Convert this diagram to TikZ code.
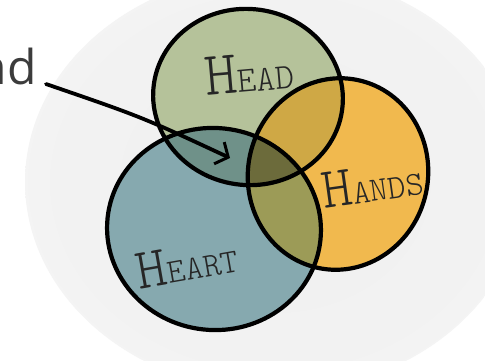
\documentclass[tikz,border=0pt]{standalone}
\usepackage{fontspec}
\setmainfont{Open Sans}
\newfontfamily\hand{Latin Modern Mono Light}
\usetikzlibrary{arrows.meta}
\definecolor{headc}{HTML}{B5C29A}
\definecolor{handsc}{HTML}{F1B94E}
\definecolor{heartc}{HTML}{86A9AF}
\definecolor{headheartc}{HTML}{6F9189}
\definecolor{headhandsc}{HTML}{CFA845}
\definecolor{handsheartc}{HTML}{9C9B57}
\definecolor{allc}{HTML}{6C6B3B}
\definecolor{txtc}{HTML}{3C3C3C}
\pgfdeclareradialshading{halo}{\pgfpoint{0bp}{0bp}}{color(0bp)=(black!6); color(22bp)=(black!5); color(50bp)=(white)}
\tikzset{
  headpos/.style={shift={(248,97)}, rotate=-8},
  handspos/.style={shift={(338,174)}, rotate=-12},
  heartpos/.style={shift={(214,229)}, rotate=-6},
  ring/.style={draw=black, line width=4.2pt},
  label/.style={font=\hand, text=black!85, inner sep=0pt},
  pointer/.style={draw=black, line width=3.8pt, line cap=round, -{Straight Barb[length=10pt,width=24pt,line width=3pt]}},
}
\newcommand\headE{(0,0) ellipse (95 and 88)}
\newcommand\handsE{(0,0) ellipse (90 and 96)}
\newcommand\heartE{(0,0) ellipse (107 and 101)}
\begin{document}
\begin{tikzpicture}[x=1pt,y=-1pt]
\useasboundingbox (0,0) rectangle (485,360);
\fill[white] (0,0) rectangle (485,360);
\shade[shading=halo] (275,182) ellipse (250 and 210);
% base fills
\fill[headc, headpos] \headE;
\fill[handsc, handspos] \handsE;
\fill[heartc, heartpos] \heartE;
% pairwise overlaps
\begin{scope}
  \clip[headpos] \headE;
  \fill[headheartc, heartpos] \heartE;
\end{scope}
\begin{scope}
  \clip[headpos] \headE;
  \fill[headhandsc, handspos] \handsE;
\end{scope}
\begin{scope}
  \clip[handspos] \handsE;
  \fill[handsheartc, heartpos] \heartE;
\end{scope}
\begin{scope}
  \clip[headpos] \headE;
  \clip[handspos] \handsE;
  \fill[allc, heartpos] \heartE;
\end{scope}
% outlines
\draw[ring, headpos] \headE;
\draw[ring, handspos] \handsE;
\draw[ring, heartpos] \heartE;
% labels
\node[label, rotate=5] (head) at (249,73) {\fontsize{62}{62}\selectfont H\fontsize{36}{36}\selectfont EAD};
\node[label, rotate=8] (hands) at (372,184) {\fontsize{58}{58}\selectfont H\fontsize{34}{34}\selectfont ANDS};
\node[label, rotate=10] (heart) at (187,263) {\fontsize{58}{58}\selectfont H\fontsize{34}{34}\selectfont EART};
% side text and pointer
\node[anchor=base east, inner sep=0pt, text=txtc, font=\fontsize{48}{48}\selectfont] (nd) at (37,84) {nd};
\coordinate (astart) at (46,84);
\coordinate (atip) at (230,158);
\draw[pointer] (astart) .. controls (142,117) .. (atip);
\end{tikzpicture}
\end{document}
